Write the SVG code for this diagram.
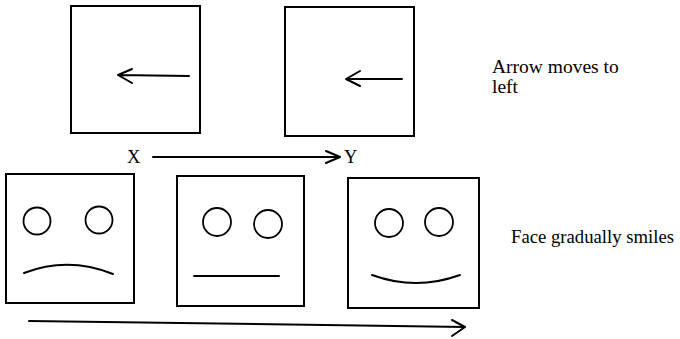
<svg xmlns="http://www.w3.org/2000/svg" width="680" height="339" viewBox="0 0 680 339">
  <style>
    .box { fill: none; stroke: #000; stroke-width: 2; }
    .ln { fill: none; stroke: #000; stroke-width: 2; stroke-linecap: round; stroke-linejoin: round; }
    .eye { fill: none; stroke: #000; stroke-width: 1.8; }
  </style>
  <rect width="680" height="339" fill="#fff"/>

  <!-- Top row: arrow moves to the left -->
  <g id="frame-arrow-1">
    <rect class="box" x="71" y="6" width="129" height="127"/>
    <path class="ln" d="M189 76 L118 75 M132 69 L118 75 L132 83"/>
  </g>
  <g id="frame-arrow-2">
    <rect class="box" x="285" y="7" width="129" height="129"/>
    <path class="ln" d="M402 79 L346 79 M360 71 L346 79 L360 86"/>
  </g>

  <!-- Bottom row: face gradually smiles -->
  <g id="face-sad">
    <rect class="box" x="6" y="174" width="128" height="129"/>
    <circle class="eye" cx="37" cy="221" r="13.5"/>
    <circle class="eye" cx="99" cy="220" r="13.5"/>
    <path class="ln" d="M24 273 Q68 256 113 274"/>
  </g>
  <g id="face-neutral">
    <rect class="box" x="177" y="176" width="127" height="130"/>
    <circle class="eye" cx="217" cy="222" r="14"/>
    <circle class="eye" cx="268" cy="224" r="14"/>
    <path class="ln" d="M194 276 L279 276"/>
  </g>
  <g id="face-smile">
    <rect class="box" x="348" y="178" width="131" height="130"/>
    <circle class="eye" cx="389" cy="223" r="14"/>
    <circle class="eye" cx="439" cy="222" r="14"/>
    <path class="ln" d="M372 275 Q416 291 460 275"/>
  </g>

  <!-- Connectors -->
  <g id="connectors">
    <path class="ln" d="M153 157 L340 157 M326 151 L340 157 L326 163"/>
    <path class="ln" d="M29 321 L465 327 M452 320 L465 327 L452 336"/>
  </g>

  <!-- Labels -->
  <g id="labels" font-family="'Liberation Serif', 'DejaVu Serif', serif" fill="#000">
    <text x="127" y="163" font-size="18.5">X</text>
    <text x="344" y="163" font-size="18.5">Y</text>
    <text x="492" y="73" font-size="19.5">Arrow moves to</text>
    <text x="492" y="93" font-size="19.5">left</text>
    <text x="511" y="243" font-size="18.7">Face gradually smiles</text>
  </g>
</svg>
